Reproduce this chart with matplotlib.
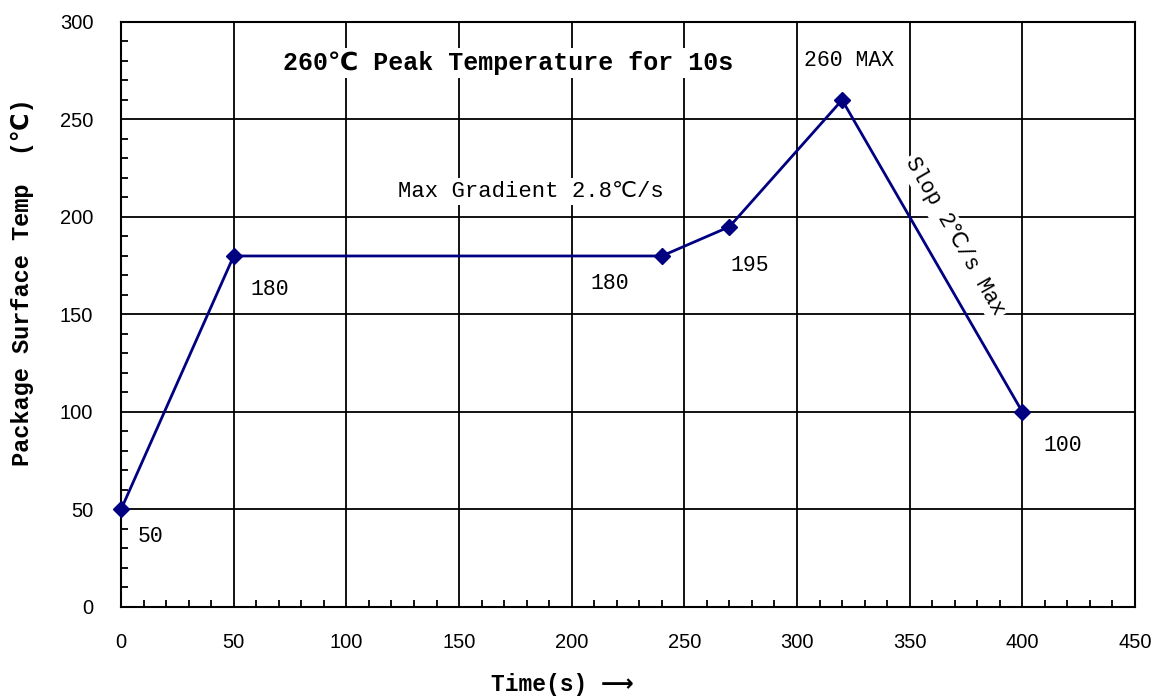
import matplotlib.pyplot as plt
from matplotlib.ticker import MultipleLocator

# reflow profile points
time_s = [0, 50, 240, 270, 320, 400]
temp_c = [50, 180, 180, 195, 260, 100]
point_labels = ["50", "180", "180", "195", "260 MAX", "100"]
label_pos = [(13, 36), (66, 163), (217, 166), (279, 175), (323, 280), (418, 83)]

mono = ["Liberation Mono", "DejaVu Sans"]

fig = plt.figure(figsize=(11.55, 7), dpi=100)
ax = fig.add_axes([0.1048, 0.1329, 0.8779, 0.8357])

ax.plot(time_s, temp_c, color="#000080", lw=2, marker="D", ms=8, zorder=3, clip_on=False)

ax.set_xlim(0, 450)
ax.set_ylim(0, 300)
ax.xaxis.set_major_locator(MultipleLocator(50))
ax.yaxis.set_major_locator(MultipleLocator(50))
ax.xaxis.set_minor_locator(MultipleLocator(10))
ax.yaxis.set_minor_locator(MultipleLocator(10))
ax.grid(True, which="major", color="black", lw=1.3)
ax.tick_params(which="major", length=0, labelsize=14.5, labelfontfamily="Liberation Sans")
ax.tick_params(axis="x", which="major", pad=19)
ax.tick_params(axis="y", which="major", pad=20)
ax.tick_params(which="minor", direction="in", length=5, width=1.3)
for s in ax.spines.values():
    s.set_linewidth(1.5)

bbox = dict(facecolor="white", edgecolor="none", pad=2)
for (x, y), t in zip(label_pos, point_labels):
    ax.text(x, y, t, fontsize=15.5, family=mono, ha="center", va="center", zorder=4)

ax.text(172, 279, "260℃ Peak Temperature for 10s", fontsize=18, fontweight="bold",
        family=mono, ha="center", va="center", bbox=bbox, zorder=4)
ax.text(182, 213, "Max Gradient 2.8℃/s", fontsize=16, family=mono,
        ha="center", va="center", bbox=bbox, zorder=4)
ax.text(370, 190, "Slop 2℃/s Max", fontsize=15.5, family=mono, rotation=-60,
        ha="center", va="center", rotation_mode="anchor", bbox=bbox, zorder=2)

fig.text(0.019, 0.597, "Package Surface Temp  (℃)", rotation=90, ha="center", va="center",
         fontsize=17, fontweight="bold", family=mono)
fig.text(0.487, 0.022, "Time(s) ⟶", ha="center", va="center",
         fontsize=16.5, fontweight="bold", family=mono)

fig.savefig("out.png", dpi=100)
